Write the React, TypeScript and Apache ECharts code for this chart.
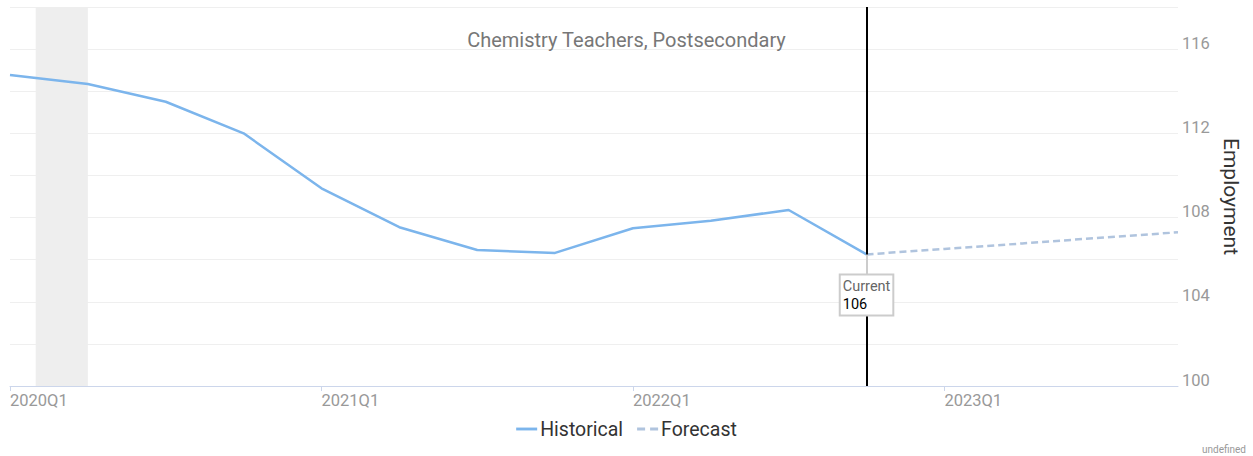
import React, { useEffect, useRef } from "react";
import * as echarts from "echarts";

const startYear = 2020;
const quarterCount = 16;
const historicalValues = [114.77, 114.34, 113.5, 112.0, 109.39, 107.54, 106.46, 106.32, 107.49, 107.85, 108.36, 106.25];
const forecastValues = [106.25, 106.51, 106.77, 107.04, 107.3];
const recessionStart = 0.33;
const recessionEnd = 1.0;
const yMin = 100;
const yMax = 118;
const yStep = 2;
const yLabelStep = 4;
const titleText = "Chemistry Teachers, Postsecondary";
const axisName = "Employment";

function quarterLabel(i: number) {
  const y = startYear + Math.floor(i / 4);
  return `${y}Q${(i % 4) + 1}`;
}

export default function App() {
  const ref = useRef<HTMLDivElement>(null);
  useEffect(() => {
    if (!ref.current) return;
    const chart = echarts.init(ref.current, undefined, { renderer: "svg" });
    const currentIdx = historicalValues.length - 1;
    const currentVal = historicalValues[currentIdx];
    const histData = historicalValues.map((v, i) => [i, v]);
    const foreData = forecastValues.map((v, i) => [currentIdx + i, v]);
    const font = "Roboto, sans-serif";
    chart.setOption({
      animation: false,
      textStyle: { fontFamily: font },
      title: {
        text: titleText,
        left: "center",
        top: 25,
        textStyle: { color: "#777", fontSize: 20, fontWeight: "normal", fontFamily: font },
      },
      grid: { left: 10, right: 75, top: 7, bottom: 70 },
      legend: {
        bottom: 12,
        left: "center",
        itemWidth: 21,
        itemHeight: 3,
        itemGap: 14,
        textStyle: { color: "#333", fontSize: 19.5, fontFamily: font, padding: [0, 0, 0, -2] },
        data: [
          { name: "Historical", icon: "path://M0,0h22v3h-22z" },
          { name: "Forecast", icon: "path://M0,0h8v3h-8z M13,0h8v3h-8z" },
        ],
      },
      xAxis: {
        type: "value",
        min: 0,
        max: quarterCount - 1,
        interval: 4,
        axisLine: { show: true, lineStyle: { color: "#ccd6eb", width: 1 } },
        axisTick: { show: true, length: 5, lineStyle: { color: "#ccd6eb" } },
        splitLine: { show: false },
        axisLabel: {
          showMaxLabel: false,
          align: "left",
          margin: 6,
          color: "#999",
          fontSize: 16.5,
          fontFamily: font,
          formatter: (v: number) => quarterLabel(v),
        },
      },
      yAxis: {
        type: "value",
        position: "right",
        min: yMin,
        max: yMax,
        interval: yStep,
        name: axisName,
        nameLocation: "middle",
        nameRotate: -90,
        nameGap: 33,
        nameTextStyle: { color: "#333", fontSize: 21, fontFamily: font },
        axisLine: { show: false },
        axisTick: { show: false },
        splitLine: { show: true, lineStyle: { color: "#efefef", width: 1 } },
        axisLabel: {
          margin: 4,
          verticalAlign: "bottom",
          lineHeight: 12,
          color: "#999",
          fontSize: 16.5,
          fontFamily: font,
          formatter: (v: number) => (Math.abs((v - yMin) % yLabelStep) < 1e-6 && v < yMax ? String(v) : ""),
        },
      },
      series: [
        {
          name: "Historical",
          type: "line",
          data: histData,
          symbol: "none",
          lineStyle: { color: "#7cb5ec", width: 2.5 },
          itemStyle: { color: "#7cb5ec" },
          z: 3,
          markArea: {
            silent: true,
            itemStyle: { color: "#eeeeee" },
            data: [[{ xAxis: recessionStart }, { xAxis: recessionEnd }]],
          },
          markLine: {
            silent: true,
            symbol: "none",
            label: { show: false },
            lineStyle: { color: "#000", width: 2, type: "solid" },
            data: [{ xAxis: currentIdx }],
          },
        },
        {
          name: "Forecast",
          type: "line",
          data: foreData,
          symbol: "none",
          lineStyle: { color: "#b0c4de", width: 2.5, type: [7, 4] },
          itemStyle: { color: "#b0c4de" },
          z: 4,
          markLine: {
            silent: true,
            symbol: "none",
            label: { show: false },
            lineStyle: { color: "#cccccc", width: 2, type: "solid" },
            data: [[{ coord: [currentIdx, currentVal] }, { coord: [currentIdx, currentVal - 1.0] }]],
          },
          markPoint: {
            silent: true,
            symbol: "rect",
            symbolSize: 0.1,
            data: [{ coord: [currentIdx, currentVal] }],
            label: {
              show: true,
              position: "bottom",
              distance: 21,
              backgroundColor: "#fff",
              borderColor: "#cccccc",
              borderWidth: 2,
              padding: [2, 2, 1, 2],
              formatter: () => `{a|Current}\n{b|${Math.round(currentVal)}}`,
              rich: {
                a: { color: "#666", fontSize: 14.5, lineHeight: 18, align: "left", fontFamily: font },
                b: { color: "#000", fontSize: 14.5, lineHeight: 18, align: "left", fontFamily: font },
              },
            },
          },
        },
      ],
      graphic: [
        {
          type: "text",
          right: 7,
          bottom: 2,
          style: { text: "undefined", fill: "#999", fontSize: 10, fontFamily: font },
        },
      ],
    });
    return () => chart.dispose();
  }, []);
  return <div ref={ref} style={{ width: 1253, height: 456, position: "absolute", left: 0, top: 0 }} />;
}
